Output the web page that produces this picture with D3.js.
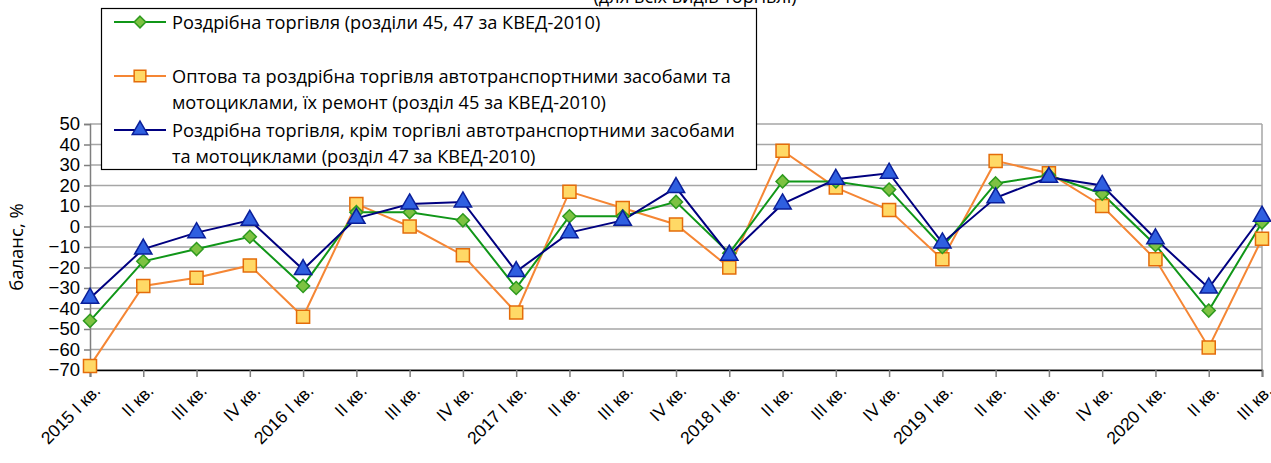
<!DOCTYPE html>
<html>
<head>
<meta charset="utf-8">
<script src="https://cdn.jsdelivr.net/npm/d3@7"></script>
<style>
body { margin: 0; background: #fff; }
svg { font-family: "Open Sans", "Noto Sans", sans-serif; }
</style>
</head>
<body>
<div id="theGraph"></div>
<script>
const quarters = ["2015 I кв.", "II кв.", "III кв.", "IV кв.",
    "2016 I кв.", "II кв.", "III кв.", "IV кв.",
    "2017 I кв.", "II кв.", "III кв.", "IV кв.",
    "2018 I кв.", "II кв.", "III кв.", "IV кв.",
    "2019 I кв.", "II кв.", "III кв.", "IV кв.",
    "2020 I кв.", "II кв.", "III кв."];
const retailAll = [-46, -17, -11, -5, -29, 7, 7, 3, -30, 5, 5, 12, -13, 22, 22, 18, -10, 21, 25, 16, -9, -41, 2];
const autoTrade = [-68, -29, -25, -19, -44, 11, 0, -14, -42, 17, 9, 1, -20, 37, 19, 8, -16, 32, 26, 10, -16, -59, -6];
const retailExAuto = [-35, -11, -3, 3, -21, 4, 11, 12, -22, -3, 3, 19, -14, 11, 23, 26, -8, 14, 24, 20, -6, -30, 5];
const yTicks = [50, 40, 30, 20, 10, 0, -10, -20, -30, -40, -50, -60, -70];

const width = 1271, height = 463,
    margin = {left: 90, top: 124, right: 9, bottom: 93},
    contentWidth = width - margin.left - margin.right,
    contentHeight = height - margin.top - margin.bottom;

const svg = d3.select("#theGraph").append("svg").attr("width", width).attr("height", height);
const maing = svg.append("g").attr("transform", `translate(${margin.left}, ${margin.top})`);

const xScale = d3.scalePoint().domain(d3.range(quarters.length)).range([0, contentWidth]);
const yScale = d3.scaleLinear().domain([-70, 50]).range([contentHeight, 0]);

// gridlines
maing.selectAll(".grid").data(yTicks).enter().append("line").attr("class", "grid")
    .attr("x1", 0).attr("x2", contentWidth)
    .attr("y1", d=>yScale(d)).attr("y2", d=>yScale(d))
    .attr("stroke", "#a6a6a6").attr("stroke-width", 1.5);
maing.append("line").attr("x1", contentWidth).attr("x2", contentWidth)
    .attr("y1", 0).attr("y2", contentHeight).attr("stroke", "#a6a6a6").attr("stroke-width", 1.5);

// y axis
const yAxis = maing.append("g").call(d3.axisLeft(yScale).tickValues(yTicks).tickSize(6).tickPadding(4));
yAxis.select(".domain").attr("stroke", "#7f7f7f").attr("stroke-width", 1.5);
yAxis.selectAll(".tick line").attr("stroke", "#7f7f7f").attr("stroke-width", 1.5);
yAxis.selectAll("text").attr("font-size", 18.5).attr("fill", "#000");

// x axis
const xAxis = maing.append("g").attr("transform", `translate(0, ${contentHeight})`)
    .call(d3.axisBottom(xScale).tickSize(7).tickFormat(i=>quarters[i]));
xAxis.select(".domain").attr("stroke", "#000").attr("stroke-width", 1.5);
xAxis.selectAll(".tick line").attr("stroke", "#7f7f7f").attr("stroke-width", 1.5);
xAxis.selectAll("text").attr("font-size", 17.5).attr("fill", "#000")
    .attr("text-anchor", "end").attr("dy", 0).attr("y", 0)
    .attr("transform", "translate(11, 22) rotate(-45)");

svg.append("text").attr("transform", "translate(23, 247) rotate(-90)")
    .attr("text-anchor", "middle").attr("font-size", 18.5).text("баланс, %");

// square diamond marker
const diamond = {draw(ctx, size) { const r = Math.sqrt(size / 2);
    ctx.moveTo(0, -r); ctx.lineTo(r, 0); ctx.lineTo(0, r); ctx.lineTo(-r, 0); ctx.closePath(); }};

const series = [
    {values: autoTrade, line: "#f58634", fill: "#ffd966", stroke: "#e46c0a", shape: d3.symbolSquare, size: 170},
    {values: retailAll, line: "#109618", fill: "#7dc242", stroke: "#2e9a1e", shape: diamond, size: 85},
    {values: retailExAuto, line: "#000080", fill: "#2f5fe0", stroke: "#0a1f9a", shape: d3.symbolTriangle, size: 130}
];
const line = d3.line().x((d, i)=>xScale(i)).y(d=>yScale(d));

series.forEach(s => {
    maing.append("path").datum(s.values).attr("d", line)
        .attr("fill", "none").attr("stroke", s.line).attr("stroke-width", 2);
});
series.forEach(s => {
    maing.selectAll(null).data(s.values).enter().append("path")
        .attr("d", d3.symbol().type(s.shape).size(s.size))
        .attr("transform", (d, i)=>`translate(${xScale(i)}, ${yScale(d)})`)
        .attr("fill", s.fill).attr("stroke", s.stroke).attr("stroke-width", 1.5);
});

// cut-off title
svg.append("text").attr("x", 695).attr("y", 3).attr("text-anchor", "middle")
    .attr("font-size", 18).text("(для всіх видів торгівлі)");

// legend
const legend = svg.append("g");
legend.append("rect").attr("x", 101.5).attr("y", 8.5).attr("width", 655).attr("height", 161)
    .attr("fill", "#fff").attr("stroke", "#000").attr("stroke-width", 1.2);
const legendItems = [
    {s: series[1], y: 22, lines: ["Роздрібна торгівля (розділи 45, 47 за КВЕД-2010)"]},
    {s: series[0], y: 76, lines: ["Оптова та роздрібна торгівля автотранспортними засобами та", "мотоциклами, їх ремонт (розділ 45 за КВЕД-2010)"]},
    {s: series[2], y: 130, lines: ["Роздрібна торгівля, крім торгівлі автотранспортними засобами", "та мотоциклами (розділ 47 за КВЕД-2010)"]}
];
legendItems.forEach(it => {
    legend.append("line").attr("x1", 114).attr("x2", 166).attr("y1", it.y).attr("y2", it.y)
        .attr("stroke", it.s.line).attr("stroke-width", 2);
    legend.append("path").attr("d", d3.symbol().type(it.s.shape).size(it.s.size * 0.8))
        .attr("transform", `translate(140, ${it.y})`)
        .attr("fill", it.s.fill).attr("stroke", it.s.stroke).attr("stroke-width", 1.5);
    it.lines.forEach((t, k) => {
        legend.append("text").attr("x", 172).attr("y", it.y + 7 + k * 26)
            .attr("font-size", 18.2).text(t);
    });
});
</script>
</body>
</html>
